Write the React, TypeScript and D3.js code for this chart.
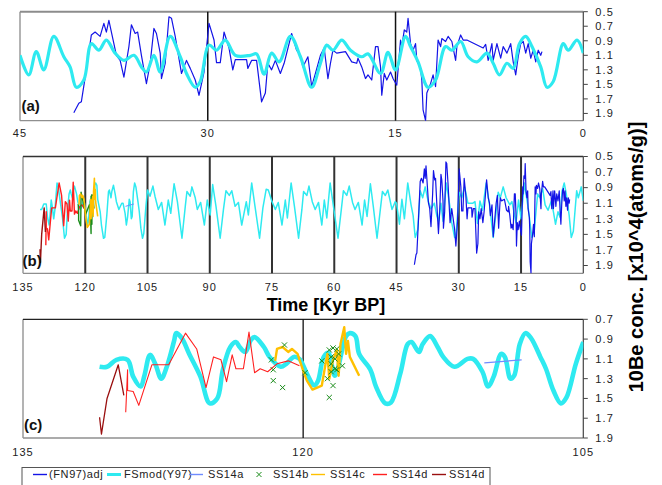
import React from 'react';
import * as d3 from 'd3';

type P = [number, number];

// FSmod(Y97) – age [kyr BP], 10Be conc.
const fsmodOld: P[] = [
  [130.9,1.18],[130.5,1.18],[130.0,1.11],[129.4,1.11],[129.1,1.28],[128.7,1.38],[128.5,1.27],[128.2,1.06],[127.9,1.16],[127.6,1.30],[127.3,1.18],[126.9,0.91],[126.8,0.84],[126.5,0.89],[126.1,1.05],[125.5,1.28],[125.0,1.55],[124.6,1.50],[124.3,1.21],[123.9,0.98],[123.6,0.93],[123.4,0.98],[123.1,1.03],[122.8,0.91],[122.6,0.88],[122.1,0.98],[121.8,1.08],[121.2,1.18],[120.9,1.15],[120.5,1.08],[120.2,1.10],[119.8,1.25],[119.4,1.37],[119.2,1.32],[118.9,1.08],[118.65,1.04],[118.3,1.27],[117.7,0.87],[117.5,0.84],[117.2,0.87],[117.0,1.05],[116.4,1.21],[116.1,1.38],[115.6,1.55],[115.3,1.54],[114.8,1.25],[114.4,0.95],[114.2,0.93],[113.8,1.03],[113.6,0.95],[113.2,0.87],[112.8,0.98],[112.5,1.08],[111.9,1.18],[111.2,1.10],[110.9,1.10],[110.4,1.23],[110.1,1.38],[109.8,1.28],[109.4,1.05],[109.2,1.08],[108.9,1.30],[108.7,1.27],[108.4,0.95],[108.1,0.84],[107.8,0.89],[107.3,1.08],[107.0,1.20],[106.6,1.42],[106.2,1.55],[105.9,1.49],[105.4,1.15],[105.0,0.93]
];
const fsmodMid: P[] = [
  [104.4,1.01],[103.7,0.88],[103.2,1.01],[102.4,1.18],[101.6,1.09],[100.8,1.38],[100.0,1.06],[99.4,1.23],[98.6,0.85],[97.8,1.08],[96.7,1.55],[95.9,1.14],[95.5,0.95],[94.7,1.01],[94.3,0.89],[93.5,1.03],[93.0,1.18],[92.2,1.09],[91.3,1.38],[90.6,1.06],[89.9,1.25],[89.3,0.86],[88.5,1.14],[87.5,1.55],[86.7,1.18],[86.1,0.94],[85.3,1.00],[84.7,0.94],[83.9,1.14],[83.1,1.09],[82.3,1.38],[81.2,1.08],[80.7,1.25],[79.9,0.84],[79.1,1.14],[78.0,1.55],[77.2,1.16],[76.4,0.92],[75.9,0.93],[75.0,1.08],[74.2,1.18],[73.5,1.09],[72.6,1.38],[71.8,1.06],[71.3,1.29],[70.4,0.84],[69.6,1.14],[68.6,1.55],[67.8,1.18],[67.4,0.95],[66.6,1.00],[66.1,0.88],[65.3,1.08],[64.6,1.18],[63.8,1.09],[63.0,1.38],[62.4,1.06],[61.8,1.29],[61.0,0.84],[60.2,1.14],[59.1,1.55],[58.3,1.18],[57.8,0.94],[57.0,1.00],[56.4,0.88],[55.6,1.09],[55.0,1.18],[54.2,1.09],[53.3,1.38],[52.7,1.06],[52.1,1.27],[51.3,0.85],[50.6,1.14],[49.7,1.55],[48.9,1.18],[48.4,0.95],[47.7,1.00],[47.1,0.93],[46.1,1.18],[45.3,1.08]
];
const fsmodRecent: P[] = [
  [45.0,1.10],[44.3,1.37],[43.7,1.05],[43.1,1.30],[42.3,0.84],[41.5,1.12],[41.0,1.26],[40.5,1.54],[39.9,1.44],[39.3,0.94],[38.7,1.03],[38.1,0.89],[37.4,1.07],[36.7,1.17],[35.9,1.10],[35.3,1.26],[34.9,1.33],[34.3,1.10],[33.8,1.33],[33.0,0.84],[32.2,1.12],[31.7,1.35],[31.0,1.54],[30.6,1.46],[29.9,0.96],[29.3,1.03],[28.6,0.89],[27.8,1.10],[26.6,1.10],[26.1,1.08],[25.5,1.36],[24.9,1.07],[24.3,1.19],[23.4,0.84],[22.6,1.12],[21.7,1.54],[21.0,1.21],[20.5,0.96],[20.0,1.03],[19.3,0.89],[18.6,1.03],[17.7,1.12],[17.2,1.08],[16.2,1.35],[15.6,1.06],[15.0,1.30],[14.2,0.84],[13.8,0.98],[13.2,1.19],[12.4,1.54],[11.8,1.44],[11.0,0.98],[10.5,1.03],[9.8,0.91],[9.2,1.12],[8.5,1.19],[7.7,1.07],[7.2,1.21],[6.7,1.37],[6.1,1.21],[5.6,1.28],[5.1,0.94],[4.6,0.84],[4.1,0.98],[3.4,1.26],[2.9,1.54],[2.4,1.46],[1.6,0.94],[1.2,1.03],[0.5,0.89],[0.0,1.07]
];
const fsmod: P[] = [...fsmodOld, ...fsmodMid, ...fsmodRecent];

// (FN97)adj
const fn97: P[] = [
  [40.7,1.89],[40.3,1.76],[40.1,1.74],[39.7,1.30],[39.3,0.82],[39.0,0.78],[38.6,0.84],[38.3,0.66],[38.1,0.78],[37.9,0.62],[37.5,0.94],[37.3,1.10],[37.0,1.17],[36.7,1.40],[36.3,0.98],[36.1,0.68],[35.8,0.80],[35.6,0.78],[35.3,1.10],[34.9,1.49],[34.6,1.21],[34.3,0.73],[34.1,0.80],[33.8,1.07],[33.7,1.42],[33.4,1.21],[33.1,0.57],[32.9,0.59],[32.6,0.84],[32.1,1.35],[31.7,1.17],[31.4,1.28],[31.0,1.44],[30.7,1.65],[30.3,1.33],[29.9,0.66],[29.5,0.89],[29.3,1.20],[29.0,1.20],[28.7,0.78],[28.3,1.00],[28.0,1.30],[27.8,1.16],[26.9,1.16],[26.8,1.28],[26.5,1.17],[26.1,1.17],[25.7,1.74],[25.4,1.62],[25.2,1.21],[24.9,1.30],[24.6,1.17],[24.2,1.35],[23.9,1.21],[23.3,0.80],[22.9,1.03],[22.6,1.10],[22.4,1.26],[22.0,1.12],[21.7,1.53],[21.4,1.35],[21.0,1.10],[20.7,1.00],[20.4,1.42],[20.2,1.21],[20.0,1.03],[19.7,1.07],[19.0,1.05],[18.5,1.19],[18.1,1.21],[18.0,1.14],[17.7,1.26],[17.4,1.42],[17.2,1.37],[16.9,1.44],[16.6,0.98],[16.4,0.98],[16.2,1.26],[16.1,1.65],[15.9,1.35],[15.7,1.44],[15.4,1.33],[15.2,1.42],[14.9,1.51],[14.6,0.89],[14.5,0.98],[14.3,0.75],[14.1,0.78],[14.0,0.59],[13.8,0.94],[13.6,1.03],[13.4,0.94],[13.3,1.17],[13.0,1.28],[12.9,1.44],[12.8,1.85],[12.6,2.0],[12.5,1.62],[12.2,1.49],[12.0,1.37],[11.8,1.53],[11.6,0.89],[11.4,0.98],[11.3,0.87],[11.0,0.91],[10.8,0.84],[10.5,0.91],[10.2,1.17],[10.1,0.98],[9.8,0.82],[9.6,0.89],[9.3,0.89],[8.0,1.00],[7.8,0.95],[7.6,1.17],[7.3,0.94],[7.2,1.17],[6.9,0.94],[6.6,1.14],[6.4,0.98],[6.1,1.07],[5.8,0.94],[5.6,1.19],[5.4,1.37],[5.2,1.12],[5.0,0.94],[4.8,0.91],[4.6,1.07],[4.4,0.94],[4.2,1.14],[4.0,1.03],[3.8,1.19],[3.6,1.03],[3.4,1.10],[3.3,1.05]
];

const ss14a: P[] = [[110.3,1.14],[108.3,1.11]];
const ss14b: P[] = [
  [121.7,1.11],[121.6,1.21],[121.6,1.32],[121.1,1.39],[121.0,0.96],[119.9,1.24],[119.0,1.12],[118.7,1.30],[118.6,1.49],[118.6,1.01],[118.5,1.08],[118.5,1.15],[118.5,1.23],[118.4,1.37],[118.4,0.99],[118.3,1.10],[118.3,1.20],[118.2,1.00],[118.2,1.21],[118.1,1.05],[117.9,1.17]
];
const ss14c: P[] = [
  [121.5,1.12],[121.4,1.00],[121.1,0.98],[120.8,1.03],[120.6,1.00],[120.3,1.05],[120.0,1.22],[119.8,1.32],[119.5,1.41],[119.0,1.37],[118.8,1.15],[118.7,1.05],[118.6,1.30],[118.4,1.11],[118.2,1.01],[118.1,1.27],[118.0,0.95],[117.8,0.78],[117.7,1.05],[117.6,0.92],[117.5,1.08],[117.0,1.27]
];
const ss14d: P[] = [
  [129.5,1.64],[129.4,1.21],[129.4,1.42],[129.1,1.43],[128.8,1.57],[128.1,1.16],[127.2,1.16],[126.3,0.84],[125.7,1.00],[125.2,1.39],[124.8,1.08],[124.4,1.11],[124.1,1.33],[123.8,1.06],[123.6,1.20],[123.2,1.20],[122.9,0.83],[122.6,1.24],[122.3,1.20],[121.9,1.23],[121.4,1.15],[120.8,1.12],[120.2,1.17]
];
const ss14dOld: P[] = [[130.9,1.69],[130.8,1.86],[130.5,1.50],[129.9,1.16],[129.6,1.47]];

const yTicksAB = [0.5, 0.7, 0.9, 1.1, 1.3, 1.5, 1.7, 1.9];
const yTicksC = [0.7, 0.9, 1.1, 1.3, 1.5, 1.7, 1.9];
const xTicksA = [45, 30, 15, 0];
const xTicksB = [135, 120, 105, 90, 75, 60, 45, 30, 15, 0];
const xTicksC = [135, 120, 105];
const vLinesA = [30, 15];
const vLinesB = [120, 105, 90, 75, 60, 45, 30, 15];
const vLinesC = [120];

const legendLabels = ['(FN97)adj', 'FSmod(Y97)', 'SS14a', 'SS14b', 'SS14c', 'SS14d', 'SS14d'];
const legendColors = ['#1414e6', '#2eeaf0', '#6f8cff', '#1a8c1a', '#ffc000', '#ff2020', '#9a1010'];

const FONT = '"Liberation Sans", Arial, Helvetica, sans-serif';
const C_FN = '#1414e6';
const C_FS = '#2eeaf0';

interface PanelCfg {
  id: string; left: number; right: number; top: number; bottom: number;
  xd: [number, number]; yd: [number, number]; yt: number[]; xt: number[]; vl: number[];
  label: string; labelX: number; labelBase: number; xLabelBase: number;
  topStroke: string; topW: number; vStroke: string; vW: number;
}

const panels: PanelCfg[] = [
  { id: 'a', left: 20, right: 583.3, top: 11.7, bottom: 120.7, xd: [45, 0], yd: [0.5, 2.0], yt: yTicksAB, xt: xTicksA, vl: vLinesA,
    label: '(a)', labelX: 21.5, labelBase: 111, xLabelBase: 137, topStroke: '#8c8c8c', topW: 2, vStroke: '#111', vW: 1.5 },
  { id: 'b', left: 23, right: 583.3, top: 156.5, bottom: 273.3, xd: [135, 0], yd: [0.5, 2.0], yt: yTicksAB, xt: xTicksB, vl: vLinesB,
    label: '(b)', labelX: 22.5, labelBase: 266, xLabelBase: 290.5, topStroke: '#333', topW: 1.5, vStroke: '#333', vW: 2 },
  { id: 'c', left: 23, right: 583.3, top: 319.3, bottom: 438, xd: [135, 105], yd: [0.7, 1.9], yt: yTicksC, xt: xTicksC, vl: vLinesC,
    label: '(c)', labelX: 24, labelBase: 429.5, xLabelBase: 456, topStroke: '#222', topW: 1.2, vStroke: '#111', vW: 1.3 },
];

function scalesFor(p: PanelCfg) {
  const x = d3.scaleLinear().domain(p.xd).range([p.left, p.right]);
  const y = d3.scaleLinear().domain(p.yd).range([p.top, p.bottom]);
  return { x, y };
}

function Frame({ p }: { p: PanelCfg }) {
  const { x, y } = scalesFor(p);
  return (
    <g>
      <line x1={p.left} x2={p.left} y1={p.top} y2={p.bottom} stroke="#9a9a9a" strokeWidth={1.5} />
      <line x1={p.left} x2={p.right} y1={p.bottom} y2={p.bottom} stroke="#8f8f8f" strokeWidth={1.3} />
      <line x1={p.left} x2={p.right} y1={p.top} y2={p.top} stroke={p.topStroke} strokeWidth={p.topW} />
      {p.vl.map((v) => (
        <line key={v} x1={x(v)} x2={x(v)} y1={p.top} y2={p.bottom} stroke={p.vStroke} strokeWidth={p.vW} />
      ))}
      <line x1={p.right} x2={p.right} y1={p.top} y2={p.bottom} stroke="#444" strokeWidth={1.2} />
      {p.yt.map((t) => (
        <g key={t}>
          <line x1={p.right} x2={p.right + 4.5} y1={y(t)} y2={y(t)} stroke="#444" strokeWidth={1} />
          <text x={p.right + 12} y={y(t)} dy="0.35em" fontSize={11} letterSpacing={1.1} fill="#222" fontFamily={FONT}>
            {t.toFixed(1)}
          </text>
        </g>
      ))}
      {p.xt.map((t) => (
        <text key={t} x={x(t)} y={p.xLabelBase} textAnchor="middle" fontSize={11} letterSpacing={1.1} fill="#222" fontFamily={FONT}>
          {t}
        </text>
      ))}
    </g>
  );
}

export default function App() {
  const W = 662, H = 485;
  const [pa, pb, pc] = panels;
  const sa = scalesFor(pa), sb = scalesFor(pb), sc = scalesFor(pc);

  const lineA = d3.line<P>().x((d) => sa.x(d[0])).y((d) => sa.y(d[1]));
  const lineAs = d3.line<P>().x((d) => sa.x(d[0])).y((d) => sa.y(d[1])).curve(d3.curveCatmullRom.alpha(0.5));
  const lineB = d3.line<P>().x((d) => sb.x(d[0])).y((d) => sb.y(d[1]));
  const lineC = d3.line<P>().x((d) => sc.x(d[0])).y((d) => sc.y(d[1]));
  const lineCs = d3.line<P>().x((d) => sc.x(d[0])).y((d) => sc.y(d[1])).curve(d3.curveCatmullRom.alpha(0.5));

  const fsRecentA = fsmod.filter((d) => d[0] <= 45.05);
  const fsC = fsmod.filter((d) => d[0] >= 104.9);

  const legendLineX = [33, 107, 189, 0, 311, 373, 432];
  const legendTextX = [49, 124, 208, 273, 330, 392, 449];
  const legendMarkX = 259;
  const ly = 474.5;

  return (
    <svg width={W} height={H} viewBox={`0 0 ${W} ${H}`} style={{ position: 'absolute', left: 0, top: 0, background: '#fff' }}
      fontFamily={FONT}>
      <defs>
        {panels.map((p) => (
          <clipPath key={p.id} id={`clip-${p.id}`}>
            <rect x={p.left} y={p.top - 1} width={p.right - p.left} height={p.bottom - p.top + 1} />
          </clipPath>
        ))}
      </defs>
      <rect x={0} y={0} width={W} height={H} fill="#fff" />

      {/* Panel (a) */}
      <Frame p={pa} />
      <g clipPath="url(#clip-a)">
        <path d={lineA(fn97) || ''} fill="none" stroke={C_FN} strokeWidth={1.2} strokeLinejoin="round" />
        <path d={lineAs(fsRecentA) || ''} fill="none" stroke={C_FS} strokeWidth={3.2} strokeLinejoin="round" />
      </g>

      {/* Panel (b) */}
      <Frame p={pb} />
      <g clipPath="url(#clip-b)">
        <path d={lineB(fsmod) || ''} fill="none" stroke={C_FS} strokeWidth={1.5} strokeLinejoin="round" />
        <path d={lineB(fn97) || ''} fill="none" stroke={C_FN} strokeWidth={1.2} strokeLinejoin="round" />
        <path d={lineB(ss14a) || ''} fill="none" stroke="#6f8cff" strokeWidth={1} />
        <path d={lineB(ss14d) || ''} fill="none" stroke="#ff2020" strokeWidth={1.4} strokeLinejoin="round" />
        <path d={lineB(ss14dOld) || ''} fill="none" stroke="#9a1010" strokeWidth={1.4} strokeLinejoin="round" />
        <path d={lineB(ss14b) || ''} fill="none" stroke="#1a8c1a" strokeWidth={1.4} strokeLinejoin="round" />
        <path d={lineB(ss14c) || ''} fill="none" stroke="#ffc000" strokeWidth={1.6} strokeLinejoin="round" />
      </g>
      <text x={326} y={311} textAnchor="middle" fontSize={18} fontWeight="bold" fill="#000">Time [Kyr BP]</text>

      {/* Panel (c) */}
      <Frame p={pc} />
      <g clipPath="url(#clip-c)">
        <path d={lineCs(fsC) || ''} fill="none" stroke={C_FS} strokeWidth={4.6} strokeLinejoin="round" />
        <path d={lineC(ss14a) || ''} fill="none" stroke="#6f8cff" strokeWidth={1.2} />
        <path d={lineC(ss14d) || ''} fill="none" stroke="#ff2020" strokeWidth={1.1} strokeLinejoin="round" />
        <path d={lineC(ss14dOld) || ''} fill="none" stroke="#9a1010" strokeWidth={1.3} strokeLinejoin="round" />
        <path d={lineC(ss14c) || ''} fill="none" stroke="#ffc000" strokeWidth={2.4} strokeLinejoin="round" />
        {ss14b.map((d, i) => {
          const cx = sc.x(d[0]), cy = sc.y(d[1]), r = 2.6;
          return (
            <g key={i} stroke="#1a8c1a" strokeWidth={1}>
              <line x1={cx - r} y1={cy - r} x2={cx + r} y2={cy + r} />
              <line x1={cx - r} y1={cy + r} x2={cx + r} y2={cy - r} />
            </g>
          );
        })}
      </g>

      {/* panel labels */}
      {panels.map((p) => (
        <text key={p.id} x={p.labelX} y={p.labelBase} fontSize={15} fontWeight="bold" fill="#111">{p.label}</text>
      ))}

      {/* y axis title */}
      <text transform="translate(643,257) rotate(-90)" textAnchor="middle" fontSize={20} fontWeight="bold" fill="#000">
        10Be conc. [x10^4(atoms/g)]
      </text>

      {/* Legend */}
      <rect x={22} y={467.5} width={468} height={26} fill="#fff" stroke="#555" strokeWidth={1} />
      {legendLabels.map((lab, i) => (
        <g key={i}>
          {i === 3 ? (
            <g stroke={legendColors[i]} strokeWidth={1}>
              <line x1={legendMarkX - 2.5} y1={ly - 2.5} x2={legendMarkX + 2.5} y2={ly + 2.5} />
              <line x1={legendMarkX - 2.5} y1={ly + 2.5} x2={legendMarkX + 2.5} y2={ly - 2.5} />
            </g>
          ) : (
            <line x1={legendLineX[i]} x2={legendLineX[i] + 14} y1={ly} y2={ly} stroke={legendColors[i]} strokeWidth={i === 1 ? 3 : 1.4} />
          )}
          <text x={legendTextX[i]} y={ly} dy="0.36em" fontSize={11} letterSpacing={0.6} fill="#222">{lab}</text>
        </g>
      ))}
    </svg>
  );
}
